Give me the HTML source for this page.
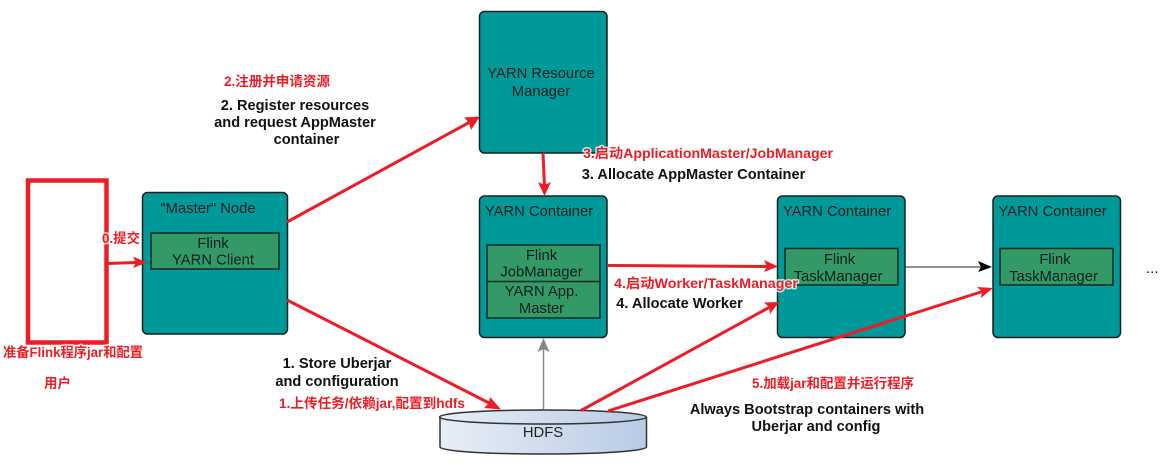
<!DOCTYPE html>
<html>
<head>
<meta charset="utf-8">
<style>
html,body{margin:0;padding:0;background:#fff;width:1167px;height:466px;overflow:hidden}
svg{display:block}
text{font-family:"Liberation Sans","Noto Sans CJK SC",sans-serif}
.n{font-size:14.800px;fill:#062020;text-anchor:middle}
.b{font-size:14.600px;font-weight:bold;fill:#111;text-anchor:middle}
.r{font-size:13.500px;font-weight:bold;fill:#ee1c25;stroke:#fff;stroke-width:3px;paint-order:stroke;stroke-linejoin:round;stroke-opacity:.75}
.box{fill:#009999;stroke:#122;stroke-width:1.500}
.in{fill:#339966;stroke:#0c2a22;stroke-width:1.500}
.red{stroke:#ee1c25;stroke-width:3;fill:none}
</style>
</head>
<body>
<svg width="1167" height="466" viewBox="0 0 1167 466" xmlns="http://www.w3.org/2000/svg">
<defs>
<linearGradient id="g" x1="0" x2="1" y1="0" y2="0"><stop offset="0" stop-color="#e8eef7"/><stop offset="1" stop-color="#b8cbe4"/></linearGradient>
</defs>

<rect x="28" y="180.500" width="78.500" height="162" fill="#fff" stroke="#ee1c25" stroke-width="4.500"/>

<rect class="box" x="142.500" y="192.500" width="145" height="141.500" rx="5"/>
<rect class="in" x="151" y="233" width="128" height="36"/>
<text class="n" x="208" y="213">"Master" Node</text>
<text class="n" x="213" y="248">Flink</text>
<text class="n" x="213" y="264.500">YARN Client</text>

<rect class="box" x="479.500" y="11.500" width="127.500" height="141.500" rx="5"/>
<text class="n" x="541" y="78">YARN Resource</text>
<text class="n" x="541" y="96">Manager</text>

<rect class="box" x="479.500" y="196" width="127.500" height="141.500" rx="5"/>
<text class="n" x="539" y="216">YARN Container</text>
<rect class="in" x="487" y="245" width="113" height="73"/>
<line x1="487" y1="281.500" x2="600" y2="281.500" stroke="#0c2a22" stroke-width="1.500"/>
<text class="n" x="541.500" y="260">Flink</text>
<text class="n" x="541.500" y="276.500">JobManager</text>
<text class="n" x="541.500" y="296">YARN App.</text>
<text class="n" x="541.500" y="313">Master</text>

<rect class="box" x="777.500" y="196" width="127.500" height="141.500" rx="5"/>
<text class="n" x="837" y="216">YARN Container</text>
<rect class="in" x="785" y="248.500" width="113" height="36.500"/>
<text class="n" x="839.500" y="264">Flink</text>
<text class="n" x="838" y="281">TaskManager</text>

<rect class="box" x="993" y="196" width="127.500" height="141.500" rx="5"/>
<text class="n" x="1052.500" y="216">YARN Container</text>
<rect class="in" x="1000" y="248.500" width="113" height="36.500"/>
<text class="n" x="1055" y="264">Flink</text>
<text class="n" x="1053.500" y="281">TaskManager</text>

<text x="1146" y="273" style="font-size:15px;fill:#111">...</text>

<line x1="905" y1="267" x2="982" y2="267" stroke="#222" stroke-width="1"/>
<polygon points="978,261 992,267 978,272 981,267" fill="#000"/>

<path d="M440 417 V447 C440 450 470 454 543 454 C616 454 646.500 450 646.500 447 V417" fill="url(#g)" stroke="#333" stroke-width="1.500"/>
<ellipse cx="543" cy="417" rx="103.500" ry="7" fill="url(#g)" stroke="#333" stroke-width="1.500"/>
<text class="n" x="543" y="437" style="fill:#222">HDFS</text>

<line x1="543.500" y1="409" x2="543.500" y2="345" stroke="#888" stroke-width="1.500"/>
<polygon points="543.500,338 549.500,352 543.500,349 537.500,352" fill="#888"/>

<line class="red" x1="108" y1="263.500" x2="136" y2="262.500"/>
<polygon points="147,262.500 133,256.500 136,262.500 133,268" fill="#ee1c25"/>

<line class="red" x1="287" y1="222" x2="470" y2="122"/>
<polygon points="480,116.500 464,117.500 469,122.500 471,130" fill="#ee1c25"/>

<line class="red" x1="287" y1="300" x2="491" y2="404"/>
<polygon points="501,409.500 490,397 489,403 484,408" fill="#ee1c25"/>

<line class="red" x1="543" y1="153" x2="544.500" y2="187"/>
<polygon points="544.500,196 551,182 544.500,185 538,182" fill="#ee1c25"/>

<line class="red" x1="607" y1="265.500" x2="768" y2="266.500"/>
<polygon points="778,266.500 764,260 767,266.500 764,272" fill="#ee1c25"/>

<line class="red" x1="581" y1="410.500" x2="770" y2="307"/>
<polygon points="779,302 764,302.500 769,307 770,314" fill="#ee1c25"/>

<line class="red" x1="608" y1="411" x2="984" y2="291"/>
<polygon points="993,288 977,287 982,291.500 981,298" fill="#ee1c25"/>

<text class="b" x="295" y="110">2. Register resources</text>
<text class="b" x="295" y="127">and request AppMaster</text>
<text class="b" x="306.500" y="144">container</text>
<text class="b" x="693.500" y="179">3. Allocate AppMaster Container</text>
<text class="b" x="679.500" y="308">4. Allocate Worker</text>
<text class="b" x="337" y="368">1. Store Uberjar</text>
<text class="b" x="337" y="386">and configuration</text>
<text class="b" x="807" y="414">Always Bootstrap containers with</text>
<text class="b" x="816" y="431">Uberjar and config</text>

<text class="r" x="224" y="86" textLength="106" lengthAdjust="spacingAndGlyphs">2.注册并申请资源</text>
<text class="r" x="583" y="158" textLength="250" lengthAdjust="spacingAndGlyphs">3.启动ApplicationMaster/JobManager</text>
<text class="r" x="102" y="243" textLength="38" lengthAdjust="spacingAndGlyphs">0.提交</text>
<text class="r" x="614" y="288" textLength="184" lengthAdjust="spacingAndGlyphs">4.启动Worker/TaskManager</text>
<text class="r" x="3" y="357" textLength="140" lengthAdjust="spacingAndGlyphs">准备Flink程序jar和配置</text>
<text class="r" x="44" y="388" textLength="27" lengthAdjust="spacingAndGlyphs">用户</text>
<text class="r" x="752" y="388" textLength="162" lengthAdjust="spacingAndGlyphs">5.加载jar和配置并运行程序</text>
<text class="r" x="279" y="408" textLength="186" lengthAdjust="spacingAndGlyphs">1.上传任务/依赖jar,配置到hdfs</text>
</svg>
</body>
</html>
